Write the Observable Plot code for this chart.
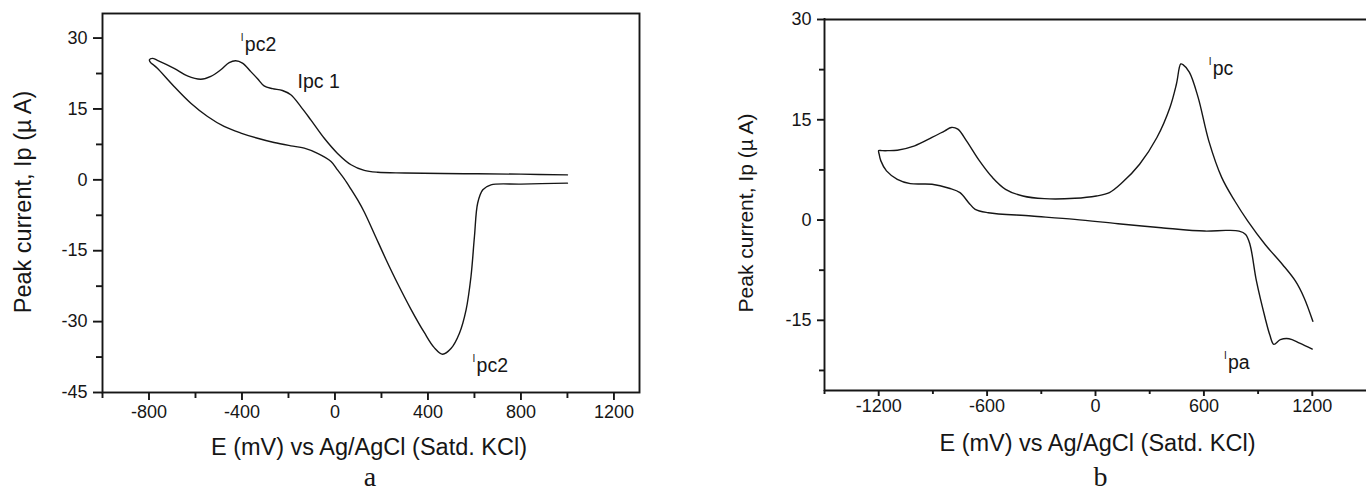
<!DOCTYPE html>
<html>
<head>
<meta charset="utf-8">
<script src="https://cdn.jsdelivr.net/npm/d3@7"></script>
<script src="https://cdn.jsdelivr.net/npm/@observablehq/plot@0.6"></script>
<style>
  html, body { margin: 0; padding: 0; background: #fff; overflow: hidden; }
  #wrap { position: relative; width: 1366px; height: 491px; overflow: hidden; background: #fff; }
  #pa, #pb { position: absolute; top: 0; }
  #pa { left: 0; }
  #pb { left: 683px; }
</style>
</head>
<body>
<div id="wrap"><div id="pa"></div><div id="pb"></div></div>
<script>
// ---------- Panel a : cyclic voltammogram ----------
const aE = [1000, 800, 556, 300, 184, 126, 69, 11, -46, -104, -147, -190, -226, -269, -305, -333, -362, -398, -427, -455, -491, -534, -577, -635, -692, -764, -785, -798,
            -793, -780, -764, -692, -620, -548, -477, -405, -333, -262, -190, -132, -75, -17, 11, 40, 68, 97, 126, 169, 219, 270, 327, 384, 427, 463, 499, 535, 564, 585, 600, 614, 636, 671, 800, 1000];
const aI = [1.05, 1.2, 1.3, 1.45, 1.6, 2.0, 3.2, 5.6, 8.8, 12.7, 15.5, 18.0, 18.9, 19.3, 19.9, 21.4, 22.9, 24.7, 25.2, 24.8, 23.3, 21.9, 21.3, 22.0, 23.6, 25.3, 25.7, 25.4,
            24.8, 24.3, 23.6, 19.75, 16.2, 13.4, 11.3, 9.9, 8.8, 7.9, 7.2, 6.7, 5.6, 3.9, 2.1, 0.2, -1.9, -4.2, -6.8, -11.4, -16.8, -22.0, -27.4, -32.3, -35.5, -36.9, -35.7, -32.5, -27.5, -20.5, -12.0, -4.9, -2.1, -1.06, -0.9, -0.7];
const aXMajor = [-800, -400, 0, 400, 800, 1200];
const aXMinor = [-1000, -600, -200, 200, 600, 1000];
const aYMajor = [-45, -30, -15, 0, 15, 30];
const aYMinor = [-37.5, -22.5, -7.5, 7.5, 22.5];
const aLabelText = ["pc2", "Ipc 1", "pc2"];
const aLabelSmallI = [true, false, true];
const aLabelE = [-405, -161, 592];
const aLabelI = [28.6, 20.8, -39.4];

// ---------- Panel b : cyclic voltammogram ----------
const bE = [1200, 1130, 1071, 1023, 987, 965, 939, 891, 855, 831, 795, 723, 604, 364, 125, -115, -354, -594, -666, -702, -750, -810, -905, -1025, -1097, -1157, -1188, -1198, -1200,
            -1180, -1150, -1097, -1001, -905, -834, -798, -762, -714, -642, -570, -498, -402, -283, -115, 5, 77, 148, 244, 340, 412, 448, 472, 484, 520, 568, 627, 699, 771, 843, 939, 1035, 1107, 1155, 1203];
const bI = [-19.3, -18.4, -17.75, -17.9, -18.6, -17.2, -14.65, -9.15, -3.65, -2.15, -1.65, -1.55, -1.65, -1.15, -0.55, 0.1, 0.6, 1.1, 1.6, 2.6, 4.1, 4.75, 5.35, 5.45, 6.1, 7.35, 8.85, 9.9, 10.4,
            10.38, 10.38, 10.45, 11.1, 12.35, 13.35, 13.85, 13.6, 11.85, 8.85, 6.35, 4.6, 3.6, 3.2, 3.25, 3.6, 4.1, 5.6, 8.35, 12.35, 16.85, 20.35, 23.35, 23.25, 22.1, 18.35, 11.85, 6.35, 2.85, -0.15, -3.65, -6.65, -9.15, -11.65, -15.15];
const bXMajor = [-1200, -600, 0, 600, 1200];
const bXMinor = [-1500, -900, -300, 300, 900];
const bYMajor = [-15, 0, 15, 30];
const bYMinor = [-22.5, -7.5, 7.5, 22.5];
const bLabelText = ["pc", "pa"];
const bLabelSmallI = [true, true];
const bLabelE = [627, 711];
const bLabelI = [22.6, -21.4];

const xTitle = "E (mV) vs Ag/AgCl (Satd. KCl)";
const yTitle = "Peak current, Ip (\u00B5 A)";

const FONT = "'Liberation Sans', Arial, Helvetica, sans-serif";
const SERIF = "'Liberation Serif', 'Times New Roman', serif";
const INK = "#161616";

function panel(cfg) {
  const data = cfg.E.map((e, i) => ({E: e, I: cfg.I[i]}));
  const labels = cfg.labelText.map((t, i) => ({t, small: cfg.labelSmall[i], E: cfg.labelE[i], I: cfg.labelI[i]}));
  const fmt = d => String(d);
  const marks = [];
  if (cfg.fullFrame) {
    marks.push(Plot.frame({stroke: INK, strokeWidth: 1.9}));
  } else {
    marks.push(Plot.ruleY([cfg.yDomain[0], cfg.yDomain[1]], {stroke: INK, strokeWidth: 1.9}));
    marks.push(Plot.ruleX([cfg.xDomain[0]], {stroke: INK, strokeWidth: 1.9, strokeLinecap: "square"}));
  }
  const mid = {textAnchor: "middle", lineAnchor: "middle", fill: INK};
  marks.push(
    Plot.axisX({ticks: cfg.xMajor, tickSize: cfg.xTick[0], tickPadding: cfg.xPad, tickFormat: fmt, label: null, strokeWidth: 1.9, stroke: INK, fill: INK}),
    Plot.axisX({ticks: cfg.xMinor, tickSize: cfg.xTick[1], tickFormat: () => "", label: null, strokeWidth: 1.9, stroke: INK}),
    Plot.axisY({ticks: cfg.yMajor, tickSize: cfg.yTick[0], tickPadding: cfg.yPad, tickFormat: fmt, label: null, strokeWidth: 1.9, stroke: INK, fill: INK}),
    Plot.axisY({ticks: cfg.yMinor, tickSize: cfg.yTick[1], tickFormat: () => "", label: null, strokeWidth: 1.9, stroke: INK}),
    Plot.line(data, {x: "E", y: "I", curve: "catmull-rom", stroke: INK, strokeWidth: 1.4}),
    // small raised "I" preceding the peak labels
    Plot.text(labels.filter(d => d.small), {x: "E", y: "I", text: () => "I", textAnchor: "start", fontSize: 10, dy: -7, fill: INK}),
    Plot.text(labels.filter(d => d.small), {x: "E", y: "I", text: "t", textAnchor: "start", dx: 4, fontSize: 19.5, fill: INK}),
    Plot.text(labels.filter(d => !d.small), {x: "E", y: "I", text: "t", textAnchor: "start", fontSize: 19.5, fill: INK}),
    Plot.text([xTitle], {...mid, frameAnchor: "bottom", dy: cfg.xTitleDy, dx: cfg.xTitleDx, fontSize: 23.5}),
    Plot.text([yTitle], {...mid, frameAnchor: "left", dx: cfg.yTitleDx, dy: cfg.yTitleDy, rotate: -90, fontSize: cfg.yTitleSize}),
    Plot.text([cfg.caption], {...mid, frameAnchor: "bottom", dy: cfg.capDy, dx: cfg.capDx, fontSize: 28, fontFamily: SERIF})
  );
  return Plot.plot({
    width: cfg.width, height: 491,
    marginLeft: cfg.mL, marginRight: cfg.mR, marginTop: cfg.mT, marginBottom: 491 - cfg.bottom,
    x: {domain: cfg.xDomain},
    y: {domain: cfg.yDomain},
    style: {fontFamily: FONT, fontSize: "18px", color: INK, background: "transparent"},
    marks
  });
}

function build() {
  const a = panel({
    E: aE, I: aI, xDomain: [-1000, 1310], yDomain: [-45, 35.2],
    xMajor: aXMajor, xMinor: aXMinor, yMajor: aYMajor, yMinor: aYMinor,
    labelText: aLabelText, labelSmall: aLabelSmallI, labelE: aLabelE, labelI: aLabelI,
    width: 683, mL: 102, mR: 44, mT: 13, bottom: 392, fullFrame: true,
    xTick: [8, 6], xPad: 5, yTick: [9, 6], yPad: 6,
    xTitleDy: 55, xTitleDx: -2, yTitleDx: -79, yTitleDy: -1, yTitleSize: 23.5,
    caption: "a", capDy: 85, capDx: -1
  });
  const b = panel({
    E: bE, I: bI, xDomain: [-1500, 1500], yDomain: [-25.5, 30],
    xMajor: bXMajor, xMinor: bXMinor, yMajor: bYMajor, yMinor: bYMinor,
    labelText: bLabelText, labelSmall: bLabelSmallI, labelE: bLabelE, labelI: bLabelI,
    width: 683, mL: 141, mR: 0, mT: 19, bottom: 390, fullFrame: false,
    xTick: [6, 4], xPad: 3, yTick: [7, 5], yPad: 6,
    xTitleDy: 53, xTitleDx: 2, yTitleDx: -78, yTitleDy: 8, yTitleSize: 21,
    caption: "b", capDy: 87, capDx: 5
  });
  document.getElementById("pa").appendChild(a);
  document.getElementById("pb").appendChild(b);
}
build();
</script>
</body>
</html>
